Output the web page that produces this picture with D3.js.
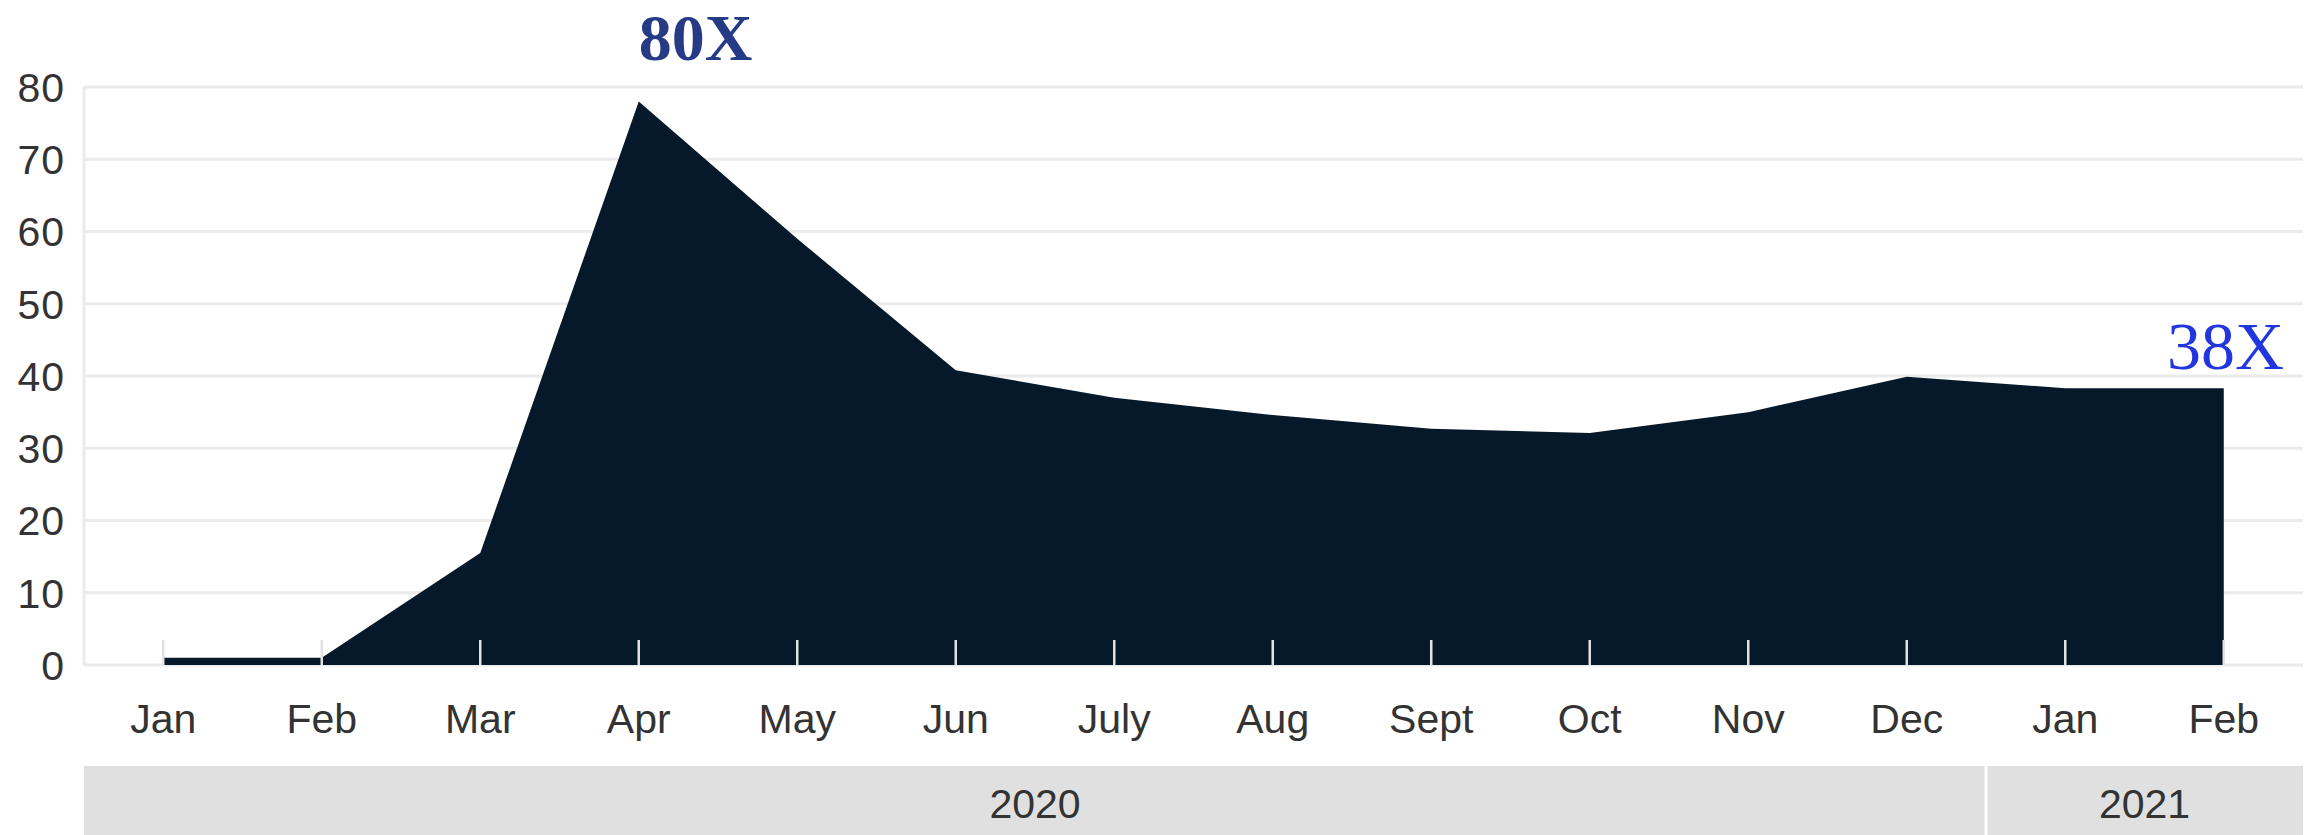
<!DOCTYPE html>
<html>
<head>
<meta charset="utf-8">
<script src="https://cdn.jsdelivr.net/npm/d3@7"></script>
<style>
  body { margin: 0; background: #fff; }
</style>
</head>
<body>
<div id="chart"></div>
<script>
// monthly values, Jan 2020 .. Feb 2021
var months = ["Jan", "Feb", "Mar", "Apr", "May", "Jun", "July", "Aug", "Sept", "Oct", "Nov", "Dec", "Jan", "Feb"];
var values = [1, 1, 15.5, 78, 59, 40.8, 37, 34.6, 32.7, 32.1, 35, 39.9, 38.3, 38.3];
var yTicks = [0, 10, 20, 30, 40, 50, 60, 70, 80];
var years = ["2020", "2020", "2020", "2020", "2020", "2020", "2020", "2020", "2020", "2020", "2020", "2020", "2021", "2021"];
var yearNames = ["2020", "2021"];

var width = 2313, height = 835;
var plotLeft = 84, plotRight = 2303, plotTop = 87, plotBottom = 665;
var sans = "Liberation Sans, Arial, sans-serif";
var serif = "Liberation Serif, 'Times New Roman', serif";
var labelColor = "#333";

var svg = d3.select("#chart").append("svg")
    .attr("width", width)
    .attr("height", height);

// index-based point scale, half a step padding on each side
var x = d3.scalePoint()
    .domain(d3.range(months.length))
    .range([plotLeft, plotRight])
    .padding(0.5);

var y = d3.scaleLinear()
    .domain([0, 80])
    .range([plotBottom, plotTop]);

/* gridlines */
svg.append("g")
    .selectAll("line")
    .data(yTicks)
    .enter().append("line")
    .attr("x1", plotLeft)
    .attr("x2", plotRight)
    .attr("y1", function (d) { return y(d); })
    .attr("y2", function (d) { return y(d); })
    .attr("stroke", "#ebebeb")
    .attr("stroke-width", 3);

// left axis line
svg.append("line")
    .attr("x1", plotLeft).attr("x2", plotLeft)
    .attr("y1", y(80)).attr("y2", y(0))
    .attr("stroke", "#ebebeb")
    .attr("stroke-width", 3);

/* y labels */
svg.append("g")
    .selectAll("text")
    .data(yTicks)
    .enter().append("text")
    .attr("x", 65)
    .attr("y", function (d) { return y(d); })
    .attr("dy", "0.36em")
    .attr("text-anchor", "end")
    .style("font-family", sans)
    .style("font-size", "41px")
    .style("letter-spacing", "1px")
    .attr("fill", labelColor)
    .text(function (d) { return d; });

/* area */
var area = d3.area()
    .x(function (d, i) { return x(i); })
    .y0(y(0))
    .y1(function (d) { return y(d); });

svg.append("path")
    .datum(values)
    .attr("d", area)
    .attr("fill", "#06192a");

/* month ticks */
svg.append("g")
    .selectAll("line")
    .data(months)
    .enter().append("line")
    .attr("x1", function (d, i) { return x(i); })
    .attr("x2", function (d, i) { return x(i); })
    .attr("y1", y(0))
    .attr("y2", y(0) - 25)
    .attr("stroke", "#e2e2e2")
    .attr("stroke-width", 2.5);

/* month labels */
svg.append("g")
    .selectAll("text")
    .data(months)
    .enter().append("text")
    .attr("x", function (d, i) { return x(i); })
    .attr("y", 733)
    .attr("text-anchor", "middle")
    .style("font-family", sans)
    .style("font-size", "41px")
    .attr("fill", labelColor)
    .text(function (d) { return d; });

/* year band */
var step = x.step();
var yearBand = svg.append("g");
yearNames.forEach(function (yr) {
    var idx = d3.range(months.length).filter(function (i) { return years[i] == yr; });
    var x0 = x(idx[0]) - step / 2;
    var x1 = x(idx[idx.length - 1]) + step / 2;
    yearBand.append("rect")
        .attr("x", x0)
        .attr("y", 766)
        .attr("width", x1 - x0)
        .attr("height", height - 766)
        .attr("fill", "#e0e0e0");
    yearBand.append("text")
        .attr("x", (x0 + x1) / 2)
        .attr("y", 818)
        .attr("text-anchor", "middle")
        .style("font-family", sans)
        .style("font-size", "41px")
        .attr("fill", labelColor)
        .text(yr);
});

// divider between the years
var split = x(12) - step / 2;
yearBand.append("line")
    .attr("x1", split).attr("x2", split)
    .attr("y1", 766).attr("y2", height)
    .attr("stroke", "#fff")
    .attr("stroke-width", 3);

/* annotations */
svg.append("text")
    .attr("x", x(3))
    .attr("y", 60)
    .style("font-family", serif)
    .style("font-weight", "bold")
    .style("font-size", "66px")
    .attr("fill", "#263b85")
    .text("80X");

svg.append("text")
    .attr("x", 2284)
    .attr("y", 369)
    .attr("text-anchor", "end")
    .style("font-family", serif)
    .style("font-size", "68px")
    .attr("fill", "#2236e0")
    .text("38X");
</script>
</body>
</html>
